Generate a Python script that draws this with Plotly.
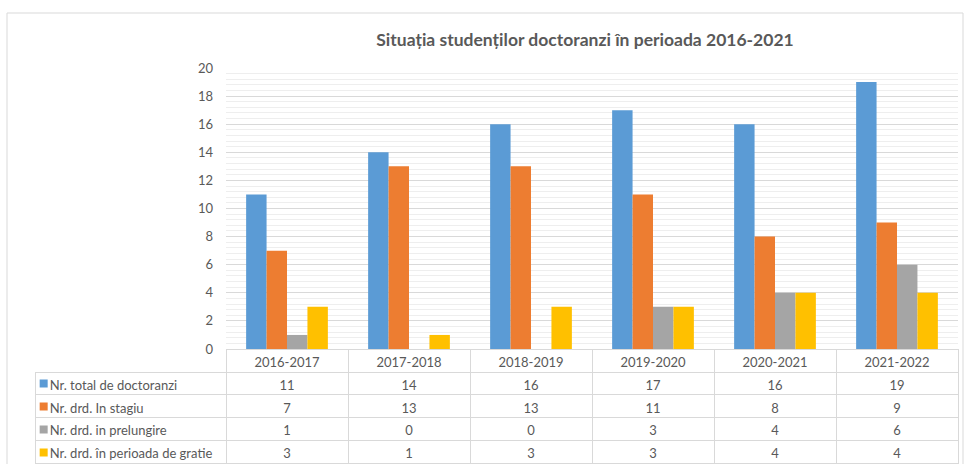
import plotly.graph_objects as go

categories = ["2016-2017", "2017-2018", "2018-2019", "2019-2020", "2020-2021", "2021-2022"]
series_names = ["Nr. total de doctoranzi", "Nr. drd. In stagiu", "Nr. drd. in prelungire",
                "Nr. drd. în perioada de gratie"]
total = [11, 14, 16, 17, 16, 19]
in_stagiu = [7, 13, 13, 11, 8, 9]
prelungire = [1, 0, 0, 3, 4, 6]
gratie = [3, 1, 3, 3, 4, 4]
series_values = [total, in_stagiu, prelungire, gratie]
colors = ["#5B9BD5", "#ED7D31", "#A5A5A5", "#FFC000"]
y_ticks = [0, 2, 4, 6, 8, 10, 12, 14, 16, 18, 20]

W, H = 965, 464
FONT = "Lato"
TXT = "#595959"
GRID = "#D9D9D9"
CLEAR = "rgba(0,0,0,0)"
NB = "\u00a0"

fig = go.Figure()
for name, vals, col in zip(series_names, series_values, colors):
    fig.add_trace(go.Bar(x=categories, y=vals, name=name, marker=dict(color=col, line=dict(width=0)),
                         showlegend=False, xaxis="x", yaxis="y"))

# legend keys of the data table, on their own small axes
fig.add_trace(go.Scatter(x=[0] * len(series_names), y=series_names, mode="markers",
                         marker=dict(symbol="square", size=8, color=colors),
                         showlegend=False, hoverinfo="skip", xaxis="x2", yaxis="y2"))

# data table (first column holds the series names)
label_col = [NB * 2 + n.replace(" ", NB) for n in series_names]
cell_values = [label_col] + [[v[i] for v in series_values] for i in range(len(categories))]
fig.add_trace(go.Table(
    domain=dict(x=[35 / W, 958 / W], y=[0, (H - 349) / H]),
    columnwidth=[191] + [122] * len(categories),
    header=dict(values=[""] + categories, height=23, align="center",
                fill=dict(color=CLEAR),
                line=dict(color=[CLEAR] + [GRID] * len(categories), width=1),
                font=dict(family=FONT, size=13, color=TXT)),
    cells=dict(values=cell_values, height=22.8, align=["left"] + ["center"] * len(categories),
               fill=dict(color=CLEAR), line=dict(color=GRID, width=1),
               font=dict(family=FONT, size=13, color=TXT)),
))

fig.update_layout(
    width=W, height=H,
    margin=dict(l=0, r=0, t=0, b=0, pad=0, autoexpand=False),
    paper_bgcolor="white", plot_bgcolor="white",
    showlegend=False,
    barmode="group", bargap=0.33, bargroupgap=0,
    font=dict(family=FONT, color=TXT, size=13),
    title=dict(text="Situația studenților doctoranzi în perioada 2016-2021",
               x=585 / W, xanchor="center", y=1 - 40 / H, yanchor="middle",
               font=dict(family=FONT, size=17.5, color=TXT, weight="bold")),
    xaxis=dict(domain=[226 / W, 958 / W], showticklabels=False, showgrid=False,
               showline=False, zeroline=False, ticks="", automargin=False),
    yaxis=dict(domain=[(H - 349) / H, (H - 68) / H], range=[0, 20], tickvals=y_ticks,
               showgrid=True, gridcolor=GRID, gridwidth=1, zeroline=False, showline=False,
               automargin=False,
               ticklabelstandoff=12, tickfont=dict(family=FONT, size=13, color=TXT),
               minor=dict(dtick=0.4, showgrid=True, gridcolor="#EEEEEE", gridwidth=1)),
    xaxis2=dict(domain=[35 / W, 61 / W], range=[-1, 2], visible=False, fixedrange=True,
                automargin=False),
    yaxis2=dict(domain=[0, (H - 372) / H], anchor="x2", type="category",
                categoryorder="array", categoryarray=series_names[::-1],
                range=[-0.5, len(series_names) - 0.5], visible=False, fixedrange=True,
                automargin=False),
    shapes=[dict(type="rect", xref="paper", yref="paper", x0=7 / W, x1=963 / W, y0=-0.05, y1=1 - 13 / H,
                 line=dict(color="#D9D9D9", width=1), layer="below")],
)

fig.write_html("out.html", config={"displayModeBar": False, "responsive": False},
               post_script="document.body.style.margin='0';document.body.style.overflow='hidden';"
                           "document.documentElement.style.overflow='hidden';")
